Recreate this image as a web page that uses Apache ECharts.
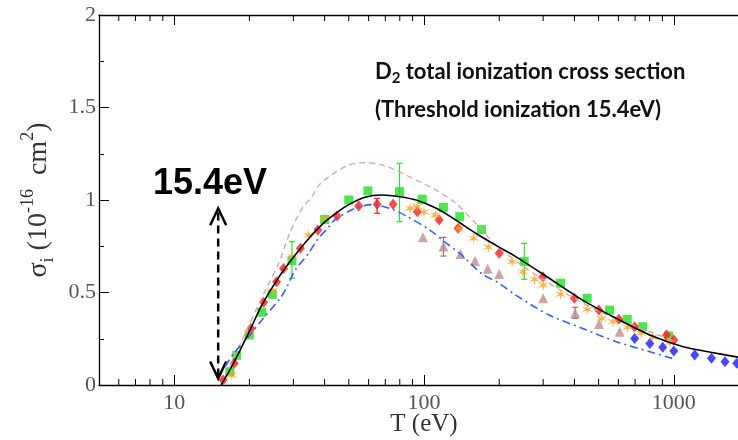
<!DOCTYPE html>
<html><head><meta charset="utf-8">
<script src="https://cdn.jsdelivr.net/npm/echarts@6/dist/echarts.min.js"></script>
<style>html,body{margin:0;padding:0;background:#fff}#c{width:738px;height:440px}</style>
</head><body><div id="c"></div>
<script>
// ---- axes ----
const xMin = 5, xMax = 2000;
const yMin = 0, yMax = 2, yStep = 0.5;
const xMajorTicks = [10, 100, 1000];
const xMinorTicks = [6,7,8,9,20,30,40,50,60,70,80,90,200,300,400,500,600,700,800,900];

// ---- theory curves ----
const blackT = [15.4,17,20,22.4,26,30,35,40,45,50,58,68,80,93,112,134,161,194,233,317,431,589,802,1090,1487,2000];
const blackV = [0,0.1,0.29,0.43,0.575,0.69,0.8,0.88,0.935,0.975,1.015,1.027,1.018,1.0,0.955,0.892,0.82,0.755,0.694,0.577,0.459,0.36,0.27,0.207,0.171,0.14];

const brownT = [15.4,17,19.5,23.2,26.2,29,32.5,35.6,38,41.6,50,58.4,68,76.9,92.8,111.6,134,161,200,300,500,1000];
const brownV = [0,0.12,0.297,0.514,0.658,0.82,0.955,1.018,1.08,1.126,1.189,1.202,1.189,1.162,1.108,1.054,0.982,0.874,0.74,0.57,0.40,0.24];

const blueLT = [16,17.3,19.8,22.4,26.6,28.1,30.5,34.5,37.2,41.6,44.2,53.1,61.8,74.5,84.5,104.8,122,142,171,197,233,317,431,589,802,985];
const blueLV = [0.1,0.17,0.26,0.35,0.47,0.523,0.62,0.712,0.78,0.855,0.895,0.955,0.975,0.95,0.915,0.84,0.77,0.70,0.60,0.555,0.486,0.378,0.306,0.234,0.18,0.144];

// ---- experimental points ----
const redT = [15.7,17.4,20.3,22.8,25.7,27.4,32.0,37.6,44.9,54.8,64.9,75.2,94,115,137,200,299,400,501,603,697,935,1000];
const redV = [0.027,0.117,0.306,0.447,0.558,0.63,0.739,0.838,0.914,0.968,0.977,0.977,0.937,0.892,0.847,0.712,0.585,0.469,0.405,0.355,0.315,0.27,0.243];

const greenT = [16.7,17.8,20.0,22.4,24.7,29.6,40.0,50.0,59.6,79.8,98.4,119.6,139,170,252,352,450,553,651,751,954];
const greenV = [0.072,0.16,0.27,0.393,0.49,0.672,0.895,1.0,1.049,1.045,1.004,0.96,0.91,0.84,0.667,0.55,0.469,0.405,0.355,0.315,0.265];

const orangeT = [17.0,20.0,24.7,29.6,34.5,40.0,88,94,100,111,138,158,181,225,249,277,300,352,451,513,571,652,740,822,965];
const orangeV = [0.054,0.28,0.51,0.694,0.81,0.9,0.955,0.965,0.935,0.919,0.845,0.793,0.746,0.667,0.612,0.571,0.54,0.49,0.409,0.36,0.342,0.312,0.28,0.258,0.229];

const triT = [99,119.6,140,160,180,200,300,403,502,607];
const triV = [0.798,0.748,0.708,0.67,0.628,0.6,0.469,0.388,0.33,0.288];

const blueT = [697,802,903,1000,1213,1415,1603,1786];
const blueV = [0.252,0.225,0.204,0.184,0.162,0.144,0.126,0.117];

// ---- error bars: [T, low, high] ----
const redErr = [[64.9,0.928,1.009]];
const greenErr = [[29.6,0.577,0.775],[79.8,0.883,1.198],[252,0.571,0.766]];
const triErr = [[119.6,0.697,0.798],[403,0.36,0.42]];

// ---- threshold arrow ----
const arrowT = 15.0, arrowLow = 0.035, arrowHigh = 0.955;

const L = Math.log10;
const pts = (T, V) => T.map((t, i) => [L(t), V[i]]);
const errs = a => a.map(e => [L(e[0]), e[1], e[2]]);

// asterisk-like star symbol path
function starPath(n, ro, ri) {
  let s = '';
  for (let i = 0; i < 2 * n; i++) {
    const r = i % 2 ? ri : ro;
    const a = Math.PI * i / n - Math.PI / 2;
    s += (i ? 'L' : 'M') + (r * Math.cos(a)).toFixed(2) + ',' + (r * Math.sin(a)).toFixed(2);
  }
  return 'path://' + s + 'Z';
}

const serif = '"Liberation Serif", "Times New Roman", serif';

function errRender(color) {
  return function (params, api) {
    const x = api.value(0);
    const a = api.coord([x, api.value(1)]);
    const b = api.coord([x, api.value(2)]);
    const st = { stroke: color, lineWidth: 1.2 };
    return { type: 'group', children: [
      { type: 'line', shape: { x1: a[0], y1: a[1], x2: b[0], y2: b[1] }, style: st },
      { type: 'line', shape: { x1: a[0] - 3, y1: a[1], x2: a[0] + 3, y2: a[1] }, style: st },
      { type: 'line', shape: { x1: b[0] - 3, y1: b[1], x2: b[0] + 3, y2: b[1] }, style: st }
    ]};
  };
}

const chart = echarts.init(document.getElementById('c'), null, { renderer: 'canvas' });
chart.setOption({
  animation: false,
  backgroundColor: '#fff',
  grid: { left: 99, top: 15, width: 650, height: 370, show: false, containLabel: false, outerBoundsMode: 'none' },
  xAxis: [{
    type: 'value', position: 'bottom', min: L(xMin), max: L(xMax),
    axisLine: { lineStyle: { color: '#000', width: 1.3 } },
    axisTick: { inside: true, length: 10, lineStyle: { color: '#000' }, customValues: xMajorTicks.map(L) },
    axisLabel: { customValues: xMajorTicks.map(L), margin: 7, color: '#555', fontFamily: serif, fontSize: 22,
      formatter: v => String(Math.round(Math.pow(10, v))) },
    splitLine: { show: false },
    name: 'T (eV)', nameLocation: 'middle', nameGap: 27, nameMoveOverlap: false,
    nameTextStyle: { fontFamily: serif, fontSize: 25, color: '#333' }
  }, {
    type: 'value', position: 'top', min: L(xMin), max: L(xMax),
    axisLine: { lineStyle: { color: '#000', width: 1.3 } },
    axisTick: { inside: true, length: 10, lineStyle: { color: '#000' }, customValues: xMajorTicks.map(L) },
    axisLabel: { show: false }, splitLine: { show: false }
  }],
  yAxis: [{
    type: 'value', min: yMin, max: yMax, interval: yStep,
    axisLine: { lineStyle: { color: '#000', width: 1.3 } },
    axisTick: { inside: true, length: 10, lineStyle: { color: '#000' } },
    minorTick: { show: true, splitNumber: 2, length: 5, lineStyle: { color: '#000' } },
    axisLabel: { margin: 3, color: '#555', fontFamily: serif, fontSize: 22, formatter: v => String(v) },
    splitLine: { show: false },
    name: '{m|σ}{sub|i}{m| (10}{sup|-16}{m|  cm}{sup|2}{m|)}',
    nameLocation: 'middle', nameGap: 33,
    nameTextStyle: {
      color: '#333',
      rich: {
        m: { fontFamily: serif, fontSize: 28, lineHeight: 38, verticalAlign: 'middle', color: '#333' },
        sup: { fontFamily: serif, fontSize: 18, lineHeight: 17, verticalAlign: 'top', color: '#333' },
        sub: { fontFamily: serif, fontSize: 18, lineHeight: 24, verticalAlign: 'bottom', color: '#333' }
      }
    }
  }],
  series: [
    { type: 'custom', name: 'minorTicks', silent: true, clip: false,
      data: xMinorTicks.map(t => [L(t)]),
      renderItem(params, api) {
        const v = api.value(0);
        const b = api.coord([v, yMin]); const t = api.coord([v, yMax]);
        const st = { stroke: '#000', lineWidth: 1 };
        return { type: 'group', children: [
          { type: 'line', shape: { x1: b[0], y1: b[1], x2: b[0], y2: b[1] - 6 }, style: st },
          { type: 'line', shape: { x1: t[0], y1: t[1], x2: t[0], y2: t[1] + 6 }, style: st }
        ]};
      } },
    { type: 'line', name: 'brown', data: pts(brownT, brownV), showSymbol: false, smooth: 0.3,
      lineStyle: { color: '#cfa5a5', width: 1.3, type: [6, 4] } },
    { type: 'line', name: 'blueLine', data: pts(blueLT, blueLV), showSymbol: false, smooth: 0.3,
      lineStyle: { color: '#3b5cff', width: 1.6, type: [8, 4, 2, 4] } },
    { type: 'line', name: 'black', data: pts(blackT, blackV), showSymbol: false, smooth: 0.3,
      lineStyle: { color: '#000', width: 1.6 } },
    { type: 'custom', name: 'greenErr', data: errs(greenErr), renderItem: errRender('#33dd33') },
    { type: 'custom', name: 'redErr', data: errs(redErr), renderItem: errRender('#ff2020') },
    { type: 'custom', name: 'triErr', data: errs(triErr), renderItem: errRender('#a07070') },
    { type: 'scatter', name: 'tri', data: pts(triT, triV), symbol: 'triangle', symbolSize: 10,
      itemStyle: { color: '#bc8f8f' } },
    { type: 'scatter', name: 'blue', data: pts(blueT, blueV), symbol: 'diamond', symbolSize: [9, 11],
      itemStyle: { color: '#1a1aff' } },
    { type: 'scatter', name: 'green', data: pts(greenT, greenV), symbol: 'rect', symbolSize: 9,
      itemStyle: { color: '#22e022' } },
    { type: 'scatter', name: 'red', data: pts(redT, redV), symbol: 'diamond', symbolSize: [9, 11],
      itemStyle: { color: '#ff1a1a' } },
    { type: 'scatter', name: 'orange', data: pts(orangeT, orangeV), symbol: starPath(6, 6, 1.6), symbolSize: 12,
      itemStyle: { color: '#ffa020' } },
    { type: 'custom', name: 'arrow', clip: false, data: [[L(arrowT), arrowLow, arrowHigh]],
      renderItem(params, api) {
        const x = api.value(0);
        const a = api.coord([x, api.value(1)]);
        const b = api.coord([x, api.value(2)]);
        const st = { stroke: '#000', lineWidth: 2.5, fill: null };
        return { type: 'group', children: [
          { type: 'line', shape: { x1: a[0], y1: a[1] - 2, x2: b[0], y2: b[1] + 2 },
            style: { stroke: '#000', lineWidth: 2.5, lineDash: [8, 5] } },
          { type: 'polyline', shape: { points: [[b[0] - 8, b[1] + 17], [b[0], b[1]], [b[0] + 8, b[1] + 17]] }, style: st },
          { type: 'polyline', shape: { points: [[a[0] - 8, a[1] - 17], [a[0], a[1]], [a[0] + 8, a[1] - 17]] }, style: st }
        ]};
      } }
  ],
  graphic: [
    { type: 'text', left: 153, top: 166, style: { text: '15.4eV', font: 'bold 36px "Liberation Sans", Arial, sans-serif', fill: '#000' } },
    { type: 'text', left: 375, top: 61, style: {
        text: '{b|D}{s|2}{b| total ionization cross section}',
        rich: {
          b: { font: 'bold 22px Lato, "Open Sans", sans-serif', fill: '#111', lineHeight: 28, verticalAlign: 'middle' },
          s: { font: 'bold 15px Lato, "Open Sans", sans-serif', fill: '#111', lineHeight: 20, verticalAlign: 'bottom' }
        } } },
    { type: 'text', left: 375, top: 99, style: { text: '(Threshold ionization 15.4eV)', font: 'bold 22px Lato, "Open Sans", sans-serif', fill: '#111' } }
  ]
});
</script></body></html>
